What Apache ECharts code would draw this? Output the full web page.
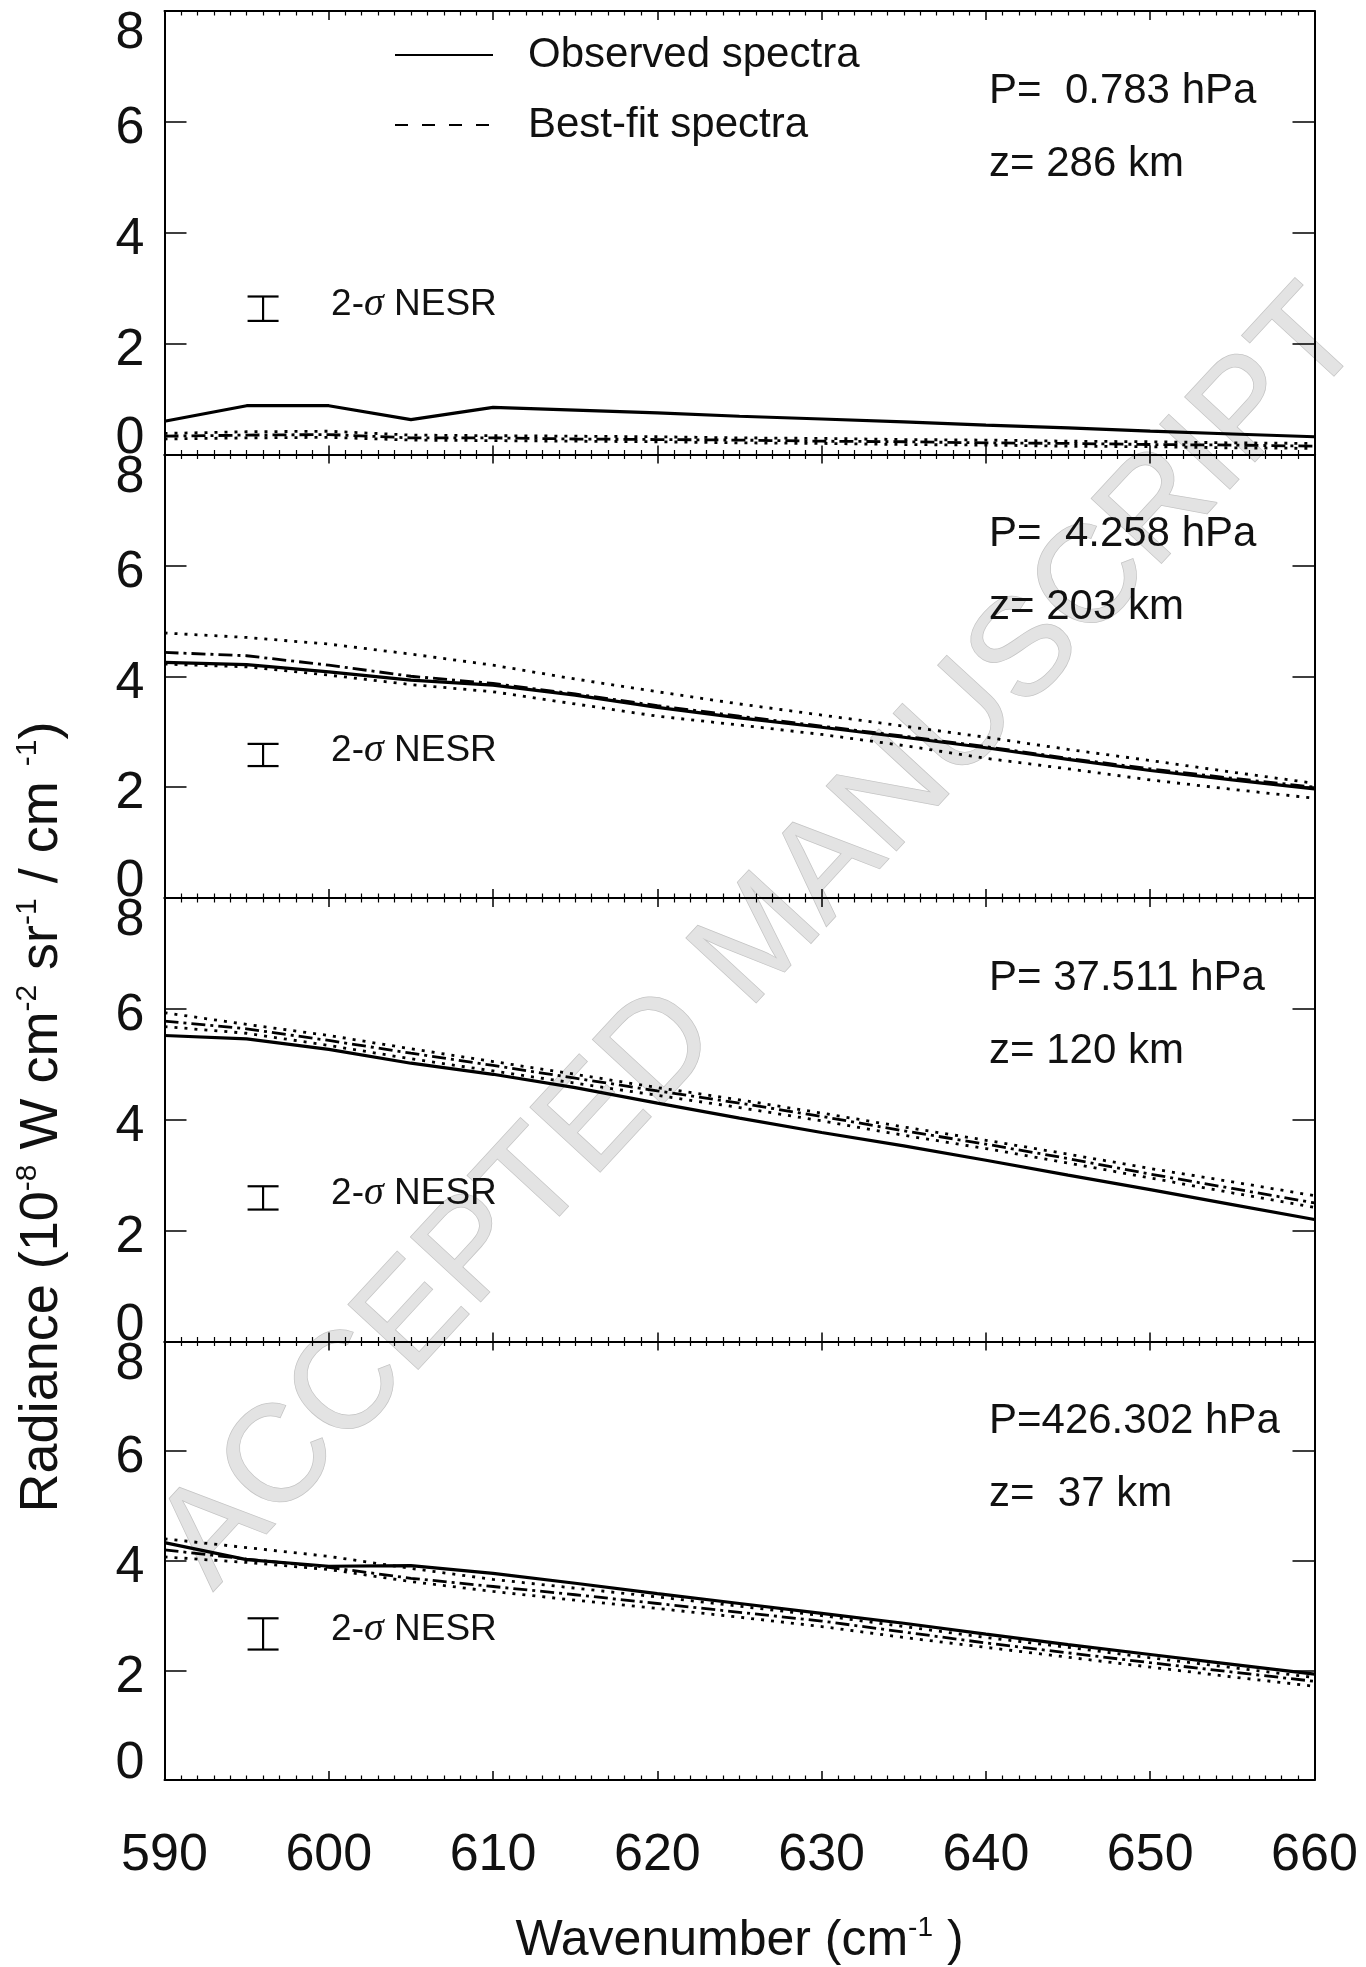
<!DOCTYPE html>
<html>
<head>
<meta charset="utf-8">
<title>Radiance spectra</title>
<script src="https://cdn.jsdelivr.net/npm/echarts@6.0.0/dist/echarts.min.js"></script>
<style>
  html, body { margin: 0; padding: 0; background: #fff; }
  #main { width: 1366px; height: 1967px; }
</style>
</head>
<body>
<div id="main"></div>
<script>
/* data */
var wavenumber = [590, 595, 600, 605, 610, 615, 620, 625, 630, 635, 640, 645, 650, 655, 660];

// panel 1 : P = 0.783 hPa
var obs1 = [0.60, 0.88, 0.88, 0.63, 0.85, 0.80, 0.75, 0.69, 0.64, 0.59, 0.53, 0.48, 0.42, 0.37, 0.32];
var fit1 = [0.33, 0.35, 0.36, 0.30, 0.30, 0.28, 0.27, 0.26, 0.24, 0.23, 0.21, 0.20, 0.18, 0.17, 0.15];
var hi1  = [0.38, 0.41, 0.42, 0.35, 0.34, 0.33, 0.32, 0.30, 0.29, 0.27, 0.26, 0.24, 0.23, 0.21, 0.20];
var lo1  = [0.28, 0.30, 0.31, 0.26, 0.25, 0.24, 0.23, 0.21, 0.20, 0.18, 0.17, 0.15, 0.14, 0.12, 0.11];

// panel 2 : P = 4.258 hPa
var obs2 = [4.25, 4.21, 4.08, 3.93, 3.84, 3.66, 3.44, 3.25, 3.08, 2.90, 2.71, 2.50, 2.30, 2.13, 1.97];
var fit2 = [4.43, 4.37, 4.20, 4.00, 3.87, 3.68, 3.47, 3.28, 3.10, 2.92, 2.73, 2.52, 2.33, 2.16, 2.00];
var hi2  = [4.78, 4.70, 4.58, 4.40, 4.20, 3.95, 3.72, 3.50, 3.30, 3.10, 2.90, 2.68, 2.48, 2.27, 2.07];
var lo2  = [4.22, 4.17, 4.02, 3.85, 3.72, 3.50, 3.28, 3.12, 2.95, 2.75, 2.52, 2.33, 2.13, 1.96, 1.80];

// panel 3 : P = 37.511 hPa
var obs3 = [5.52, 5.46, 5.27, 5.02, 4.82, 4.58, 4.30, 4.03, 3.77, 3.53, 3.27, 3.00, 2.74, 2.47, 2.20];
var fit3 = [5.78, 5.64, 5.43, 5.20, 4.98, 4.75, 4.52, 4.30, 4.06, 3.80, 3.56, 3.30, 3.02, 2.76, 2.50];
var hi3  = [5.93, 5.72, 5.52, 5.28, 5.05, 4.82, 4.58, 4.36, 4.12, 3.87, 3.63, 3.38, 3.12, 2.88, 2.63];
var lo3  = [5.68, 5.56, 5.34, 5.10, 4.88, 4.66, 4.44, 4.22, 3.98, 3.72, 3.48, 3.22, 2.95, 2.68, 2.42];

// panel 4 : P = 426.302 hPa
var obs4 = [4.33, 4.02, 3.90, 3.91, 3.77, 3.59, 3.40, 3.22, 3.04, 2.86, 2.66, 2.47, 2.29, 2.11, 1.93];
var fit4 = [4.20, 4.03, 3.88, 3.68, 3.53, 3.38, 3.22, 3.06, 2.90, 2.70, 2.50, 2.32, 2.14, 1.97, 1.80];
var hi4  = [4.40, 4.24, 4.08, 3.86, 3.66, 3.50, 3.34, 3.17, 3.00, 2.80, 2.60, 2.42, 2.23, 2.05, 1.87];
var lo4  = [4.07, 3.97, 3.84, 3.62, 3.44, 3.28, 3.13, 2.97, 2.80, 2.60, 2.42, 2.24, 2.06, 1.88, 1.71];

// 2-sigma NESR bars
var nesrX    = [596, 596, 596, 596];
var nesrLow  = [2.41, 2.38, 2.38, 2.38];
var nesrHigh = [2.85, 2.78, 2.80, 2.95];

var pressureText = ['P=  0.783 hPa', 'P=  4.258 hPa', 'P= 37.511 hPa', 'P=426.302 hPa'];
var heightText   = ['z= 286 km', 'z= 203 km', 'z= 120 km', 'z=  37 km'];

var xTicks = [590, 660, 10];
var yTicks = [0, 8, 2];

var observed = [obs1, obs2, obs3, obs4];
var bestFit  = [fit1, fit2, fit3, fit4];
var upper    = [hi1, hi2, hi3, hi4];
var lower    = [lo1, lo2, lo3, lo4];

/* layout */
var FONT = 'Liberation Sans';
var LEFT = 164.5, RIGHT = 51.5, TOP = 11, PANEL_H = 443.5;

function pairs(ys) {
  return wavenumber.map(function (x, i) { return [x, ys[i]]; });
}

/* error bar + label */
function nesrItem(params, api) {
  var lo = api.coord([api.value(0), api.value(1)]);
  var hi = api.coord([api.value(0), api.value(2)]);
  var cap = 15.5;
  return {
    type: 'group',
    children: [
      { type: 'line', shape: { x1: lo[0], y1: lo[1], x2: hi[0], y2: hi[1] }, style: { stroke: '#000', lineWidth: 2.2 } },
      { type: 'line', shape: { x1: lo[0] - cap, y1: lo[1], x2: lo[0] + cap, y2: lo[1] }, style: { stroke: '#000', lineWidth: 2.2 } },
      { type: 'line', shape: { x1: hi[0] - cap, y1: hi[1], x2: hi[0] + cap, y2: hi[1] }, style: { stroke: '#000', lineWidth: 2.2 } },
      {
        type: 'text',
        x: lo[0] + 68,
        y: (lo[1] + hi[1]) / 2 - 4,
        style: {
          text: '{a|2-}{s|σ}{a| NESR}',
          align: 'left',
          verticalAlign: 'middle',
          rich: {
            a: { fontSize: 37, fontFamily: FONT, fill: '#111' },
            s: { fontSize: 40, fontFamily: 'Liberation Serif', fontStyle: 'italic', fill: '#111' }
          }
        }
      }
    ]
  };
}

function makeXAxis(i, pos) {
  var bottom = pos === 'bottom';
  var ax = {
    type: 'value', gridIndex: i, position: pos,
    min: xTicks[0], max: xTicks[1], interval: xTicks[2],
    axisLine: { onZero: false, lineStyle: { color: '#000', width: 2 } },
    axisTick: { inside: true, length: 9, lineStyle: { color: '#000', width: 1.5 } },
    minorTick: { show: true, splitNumber: 10, length: 4.5, lineStyle: { color: '#000', width: 1.2 } },
    splitLine: { show: false },
    minorSplitLine: { show: false },
    axisLabel: { show: bottom && i === 3, margin: 50, color: '#111', fontSize: 52, fontFamily: FONT }
  };
  if (bottom && i === 3) {
    ax.name = 'Wavenumber (cm{sup|-1} )';
    ax.nameLocation = 'middle';
    ax.nameGap = 134;
    ax.nameTextStyle = {
      fontSize: 50, fontFamily: FONT, color: '#111',
      rich: { sup: { fontSize: 28, fontFamily: FONT, color: '#111', padding: [0, 0, 26, 0] } }
    };
  }
  return ax;
}

function yLabel(v) {
  if (v === 8) return '{top|8}';
  if (v === 0) return '{bot|0}';
  return '{mid|' + v + '}';
}

function makeYAxis(i, pos) {
  var left = pos === 'left';
  return {
    type: 'value', gridIndex: i, position: pos,
    min: yTicks[0], max: yTicks[1], interval: yTicks[2],
    axisLine: { show: true, onZero: false, lineStyle: { color: '#000', width: 2 } },
    axisTick: { show: true, inside: true, length: 22, lineStyle: { color: '#000', width: 1.5 } },
    splitLine: { show: false },
    axisLabel: {
      show: left,
      margin: 20,
      formatter: yLabel,
      rich: {
        top: { fontSize: 52, fontFamily: FONT, color: '#111', padding: [46, 0, 0, 0] },
        mid: { fontSize: 52, fontFamily: FONT, color: '#111', padding: [14, 0, 0, 0] },
        bot: { fontSize: 52, fontFamily: FONT, color: '#111', padding: [0, 0, 32, 0] }
      }
    }
  };
}

var grids = [], xAxes = [], yAxes = [], series = [], graphics = [];

// faint watermark across the figure
graphics.push({
  type: 'text', x: 762, y: 940, rotation: 0.826, z: 0, silent: true,
  style: {
    text: 'ACCEPTED MANUSCRIPT', align: 'center', verticalAlign: 'middle',
    fontSize: 138, fontFamily: FONT, fill: '#e3e3e3', stroke: '#c4c4c4', lineWidth: 1.5
  }
});

// shared y title
graphics.push({
  type: 'text', x: 42, y: 1117, rotation: Math.PI / 2, z: 20,
  style: {
    text: 'Radiance (10{sup|-8} W cm{sup|-2} sr{sup|-1} / cm {sup|-1})',
    align: 'center', verticalAlign: 'middle',
    rich: {
      sup: { fontSize: 30, fontFamily: FONT, fill: '#111', padding: [0, 0, 28, 0] }
    },
    fontSize: 54, fontFamily: FONT, fill: '#111'
  }
});

for (var i = 0; i < 4; i++) {
  var panelTop = TOP + i * PANEL_H;
  grids.push({ left: LEFT, right: RIGHT, top: panelTop, height: PANEL_H });
  xAxes.push(makeXAxis(i, 'bottom'));
  xAxes.push(makeXAxis(i, 'top'));
  yAxes.push(makeYAxis(i, 'left'));
  yAxes.push(makeYAxis(i, 'right'));

  series.push({
    name: 'Observed spectra', type: 'line', data: pairs(observed[i]), symbol: 'none', z: 5,
    xAxisIndex: 2 * i, yAxisIndex: 2 * i,
    lineStyle: { color: '#000', width: 3.2 }, itemStyle: { color: '#000' }
  });
  series.push({
    name: 'Best-fit spectra', type: 'line', data: pairs(bestFit[i]), symbol: 'none', z: 4,
    xAxisIndex: 2 * i, yAxisIndex: 2 * i,
    lineStyle: { color: '#000', width: 2.8, type: [14, 5, 3, 5] }, itemStyle: { color: '#000' }
  });
  series.push({
    name: 'upper' + i, type: 'line', data: pairs(upper[i]), symbol: 'none', z: 3,
    xAxisIndex: 2 * i, yAxisIndex: 2 * i,
    lineStyle: { color: '#000', width: 2.8, type: [3, 7] }
  });
  series.push({
    name: 'lower' + i, type: 'line', data: pairs(lower[i]), symbol: 'none', z: 3,
    xAxisIndex: 2 * i, yAxisIndex: 2 * i,
    lineStyle: { color: '#000', width: 2.8, type: [3, 7] }
  });
  series.push({
    name: 'nesr' + i, type: 'custom', renderItem: nesrItem, z: 6,
    xAxisIndex: 2 * i, yAxisIndex: 2 * i,
    data: [[nesrX[i], nesrLow[i], nesrHigh[i]]]
  });

  graphics.push({
    type: 'text', left: 989, top: panelTop + 59, z: 20,
    style: { text: pressureText[i], fontSize: 42, fontFamily: FONT, fill: '#111' }
  });
  graphics.push({
    type: 'text', left: 989, top: panelTop + 132, z: 20,
    style: { text: heightText[i], fontSize: 42, fontFamily: FONT, fill: '#111' }
  });
}

var chart = echarts.init(document.getElementById('main'));
chart.setOption({
  animation: false,
  backgroundColor: '#fff',
  legend: {
    orient: 'vertical',
    left: 394,
    top: 34,
    padding: 0,
    itemWidth: 98,
    itemHeight: 14,
    itemGap: 28,
    selectedMode: false,
    // hide the symbol dot, keep only the line sample
    itemStyle: { opacity: 0 },
    textStyle: { fontSize: 42, fontFamily: FONT, color: '#111', padding: [0, 0, 0, 30] },
    data: [
      { name: 'Observed spectra' },
      { name: 'Best-fit spectra', lineStyle: { type: [13, 14] } }
    ]
  },
  grid: grids,
  xAxis: xAxes,
  yAxis: yAxes,
  graphic: graphics,
  series: series
});
</script>
</body>
</html>
